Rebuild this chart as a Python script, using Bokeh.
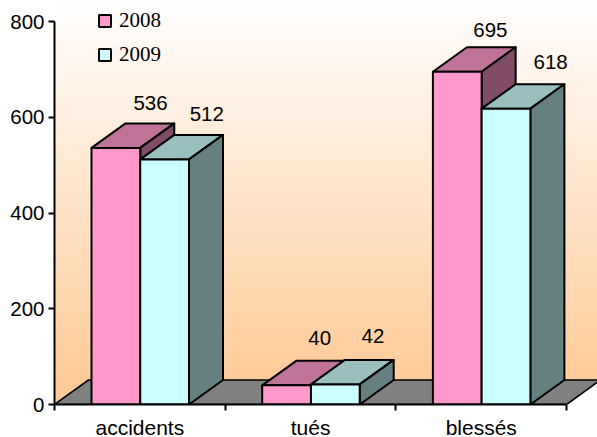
from bokeh.plotting import figure
from bokeh.models import ColumnDataSource, FixedTicker, LinearAxis, Legend, LegendItem, Range1d
from bokeh.core.properties import value
from bokeh.embed import file_html
from bokeh.resources import INLINE
import numpy as np

# ---- data ----
categories = ["accidents", "tués", "blessés"]
series_names = ["2008", "2009"]
values_2008 = [536, 40, 695]
values_2009 = [512, 42, 618]
axis_ticks = [0, 200, 400, 600, 800]

# ---- styling / layout ----
W, H = 597, 437
FRAME_L, FRAME_H = 54, 404
PX_PER_CAT, PX_PER_VAL = 170.7, 383 / 800
DX, DY = 34 / PX_PER_CAT, 24.5 / PX_PER_VAL     # 3-D depth in data units
GAP, BAR = 37 / PX_PER_CAT, 48.75 / PX_PER_CAT
FACES = {
    "2008": ("#FF99CC", "#BF7399", "#804C66"),
    "2009": ("#CCFFFF", "#99BFBF", "#668080"),
}
LABEL_DX = {"2008": [59, 57.5, 57.5], "2009": [66.5, 62, 69]}
LABEL_DY = {"2008": [-45, -47, -42], "2009": [-45, -48, -47]}
SANS, SERIF = "Liberation Sans", "Liberation Serif"

x_end = (W - FRAME_L) / PX_PER_CAT
y_end = FRAME_H / PX_PER_VAL

p = figure(width=W, height=H, output_backend="svg", toolbar_location=None,
           x_range=Range1d(0, x_end), y_range=Range1d(0, y_end),
           min_border_left=FRAME_L, min_border_right=0, min_border_top=0, min_border_bottom=H - FRAME_H,
           x_axis_type=None, y_axis_type=None)
p.frame_width = W - FRAME_L
p.frame_height = FRAME_H
p.outline_line_color = None
p.grid.visible = False
p.background_fill_color = None
p.border_fill_color = "white"

# gradient back wall
rows = 256
t = np.linspace(0, 1, rows)   # 0 at the bottom (peach) -> 1 at the top (white)
img = np.zeros((rows, 1), dtype=np.uint32)
view = img.view(dtype=np.uint8).reshape((rows, 1, 4))
view[:, 0, 0] = 255
view[:, 0, 1] = (204 + 51 * t).astype(np.uint8)
view[:, 0, 2] = (153 + 102 * t).astype(np.uint8)
view[:, 0, 3] = 255
p.image_rgba(image=[img], x=[0], y=[DY], dw=[x_end], dh=[y_end - DY])

# wall corner left of the floor, and the floor
n = len(categories)
p.patch([0, DX, 0], [0, DY, DY], fill_color="#FFCC99", line_color=None)
p.patch([0, DX, n + DX, n], [0, DY, DY, 0], fill_color="#808080", line_color="black", line_width=1.6)

# bars
legend_items = []
for c in range(n):
    for s, name in enumerate(series_names):
        v = (values_2008 if name == "2008" else values_2009)[c]
        front, top, side = FACES[name]
        x0 = c + GAP + s * BAR
        x1 = x0 + BAR
        p.patch([x0, x0 + DX, x1 + DX, x1], [v, v + DY, v + DY, v],
                fill_color=top, line_color="black", line_width=2, line_join="round")
        p.patch([x1, x1 + DX, x1 + DX, x1], [0, DY, v + DY, v],
                fill_color=side, line_color="black", line_width=2, line_join="round")
        r = p.quad(left=x0, right=x1, bottom=0, top=v,
                   fill_color=front, line_color="black", line_width=2)
        if c == 0:
            legend_items.append(LegendItem(label=name, renderers=[r]))

# value labels
for s, name in enumerate(series_names):
    vals = values_2008 if name == "2008" else values_2009
    src = ColumnDataSource(dict(
        x=[c + GAP + s * BAR for c in range(n)], y=vals, t=[str(v) for v in vals],
        dx=LABEL_DX[name], dy=LABEL_DY[name]))
    p.text(x="x", y="y", text="t", source=src, x_offset="dx", y_offset="dy",
           text_align="center", text_baseline="middle", text_color="black",
           text_font=value(SANS), text_font_size="20.5px")

# axes
ya = LinearAxis(ticker=FixedTicker(ticks=axis_ticks), bounds=(0, 800))
ya.axis_line_color = "black"; ya.axis_line_width = 2
ya.major_tick_line_color = "black"; ya.major_tick_line_width = 2
ya.major_tick_in = 0; ya.major_tick_out = 6; ya.minor_tick_line_color = None
ya.major_label_standoff = 4
ya.major_label_text_font = SANS; ya.major_label_text_font_size = "20.5px"; ya.major_label_text_color = "black"
p.add_layout(ya, "left")

xa = LinearAxis(ticker=FixedTicker(ticks=list(range(n + 1))), bounds=(0, n))
xa.axis_line_color = "black"; xa.axis_line_width = 2
xa.major_tick_line_color = "black"; xa.major_tick_line_width = 2
xa.major_tick_in = 0; xa.major_tick_out = 6; xa.minor_tick_line_color = None
xa.major_label_overrides = {i: "" for i in range(n + 1)}
xa.major_label_text_font_size = "1px"; xa.major_label_standoff = 0
p.add_layout(xa, "below")

xl = LinearAxis(ticker=FixedTicker(ticks=[i + 0.5 for i in range(n)]), bounds=(0, n))
xl.axis_line_color = None; xl.major_tick_line_color = None; xl.minor_tick_line_color = None
xl.major_tick_in = 0; xl.major_tick_out = 0; xl.major_label_standoff = 5
xl.major_label_overrides = {i + 0.5: categories[i] for i in range(n)}
xl.major_label_text_font = SANS; xl.major_label_text_font_size = "21px"; xl.major_label_text_color = "black"
p.add_layout(xl, "below")

# legend
lg = Legend(items=legend_items, location=(43, FRAME_H - 67), orientation="vertical",
            glyph_width=15, glyph_height=15, label_text_font=SERIF, label_text_font_size="21px",
            label_text_color="black", label_standoff=7, spacing=9, margin=0, padding=0,
            background_fill_alpha=0, border_line_color=None)
p.add_layout(lg, "center")

open("out.html", "w").write(file_html(p, INLINE))
